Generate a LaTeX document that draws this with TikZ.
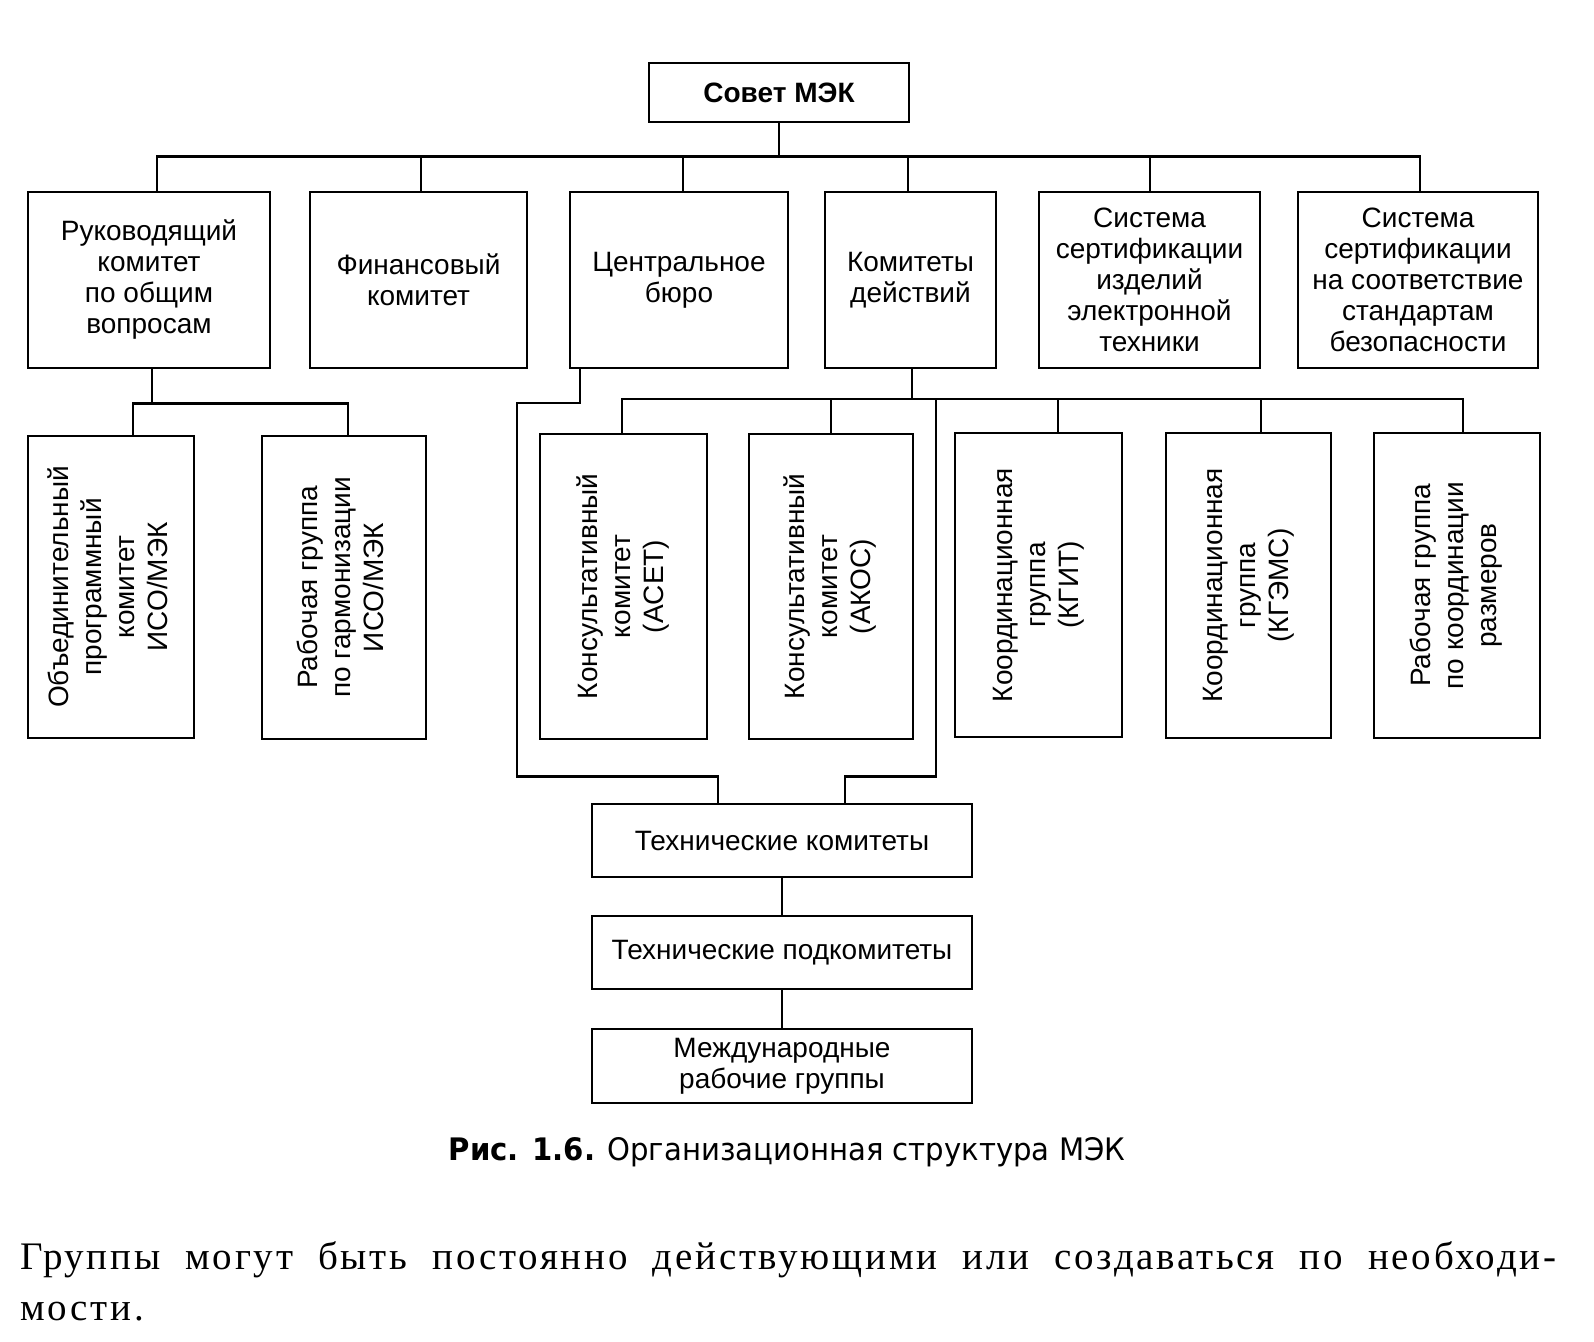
\documentclass[tikz,border=0pt]{standalone}
\usepackage{fontspec}
\usepackage{graphicx}
\setmainfont{Liberation Sans}
\newfontfamily\capfont[FakeStretch=0.94]{DejaVu Sans}
\newfontfamily\bodyfont[LetterSpace=7.0]{Liberation Serif}
\newcommand{\rottext}[1]{\rotatebox{90}{\fontsize{28}{33}\selectfont\begin{tabular}{@{}c@{}}#1\end{tabular}}}
\begin{document}
\begin{tikzpicture}[x=1pt,y=-1pt,
  box/.style={draw, line width=2.7pt, inner sep=0pt, align=center, font=\fontsize{28}{31}\selectfont},
  conn/.style={line width=2.7pt},
]
\useasboundingbox[fill=white] (0,0) rectangle (1594,1341);

% top
\node[box, minimum width=260pt, minimum height=59pt, font=\bfseries\fontsize{28}{31}\selectfont] (sovet) at (779,92.5) {Совет МЭК};

% first row
\node[box, minimum width=242pt, minimum height=176pt] (ruk) at (149,280) {Руководящий\\комитет\\по общим\\вопросам};
\node[box, minimum width=217pt, minimum height=176pt] (fin) at (418.5,280) {Финансовый\\комитет};
\node[box, minimum width=218pt, minimum height=176pt] (cb) at (679,280) {Центральное\\бюро};
\node[box, minimum width=171pt, minimum height=176pt] (kd) at (910.5,280) {Комитеты\\действий};
\node[box, minimum width=221pt, minimum height=176pt] (sys1) at (1149.5,280) {Система\\сертификации\\изделий\\электронной\\техники};
\node[box, minimum width=240pt, minimum height=176pt] (sys2) at (1418,280) {Система\\сертификации\\на соответствие\\стандартам\\безопасности};

% second row (vertical text)
\node[box, minimum width=166pt, minimum height=302pt] (obj) at (111,587) {\rottext{Объединительный\\программный\\комитет\\ИСО/МЭК}};
\node[box, minimum width=164pt, minimum height=303pt] (rg1) at (344,587.5) {\rottext{Рабочая группа\\по гармонизации\\ИСО/МЭК}};
\node[box, minimum width=167pt, minimum height=305pt] (acet) at (623.5,586.5) {\rottext{Консультативный\\комитет\\(ACET)}};
\node[box, minimum width=164pt, minimum height=305pt] (akos) at (831,586.5) {\rottext{Консультативный\\комитет\\(АКОС)}};
\node[box, minimum width=167pt, minimum height=304pt] (kgit) at (1038.5,585) {\rottext{Координационная\\группа\\(КГИТ)}};
\node[box, minimum width=165pt, minimum height=305pt] (kgems) at (1248.5,585.5) {\rottext{Координационная\\группа\\(КГЭМС)}};
\node[box, minimum width=166pt, minimum height=305pt] (rgr) at (1457,585.5) {\rottext{Рабочая группа\\по координации\\размеров}};

% technical chain
\node[box, minimum width=380pt, minimum height=73pt] (tk) at (782,840.5) {Технические комитеты};
\node[box, minimum width=380pt, minimum height=73pt] (tp) at (782,952.5) {Технические подкомитеты};
\node[box, minimum width=380pt, minimum height=74pt] (mrg) at (782,1066) {Международные\\рабочие группы};

% attach points
\coordinate (pRuk) at ([xshift=8pt]ruk.north);
\coordinate (pFin) at ([xshift=2.5pt]fin.north);
\coordinate (pCb) at ([xshift=4pt]cb.north);
\coordinate (pKd) at ([xshift=-2.5pt]kd.north);
\coordinate (pS1) at ([xshift=0.5pt]sys1.north);
\coordinate (pS2) at ([xshift=2pt]sys2.north);
\coordinate (rukB) at ([xshift=3pt]ruk.south);
\coordinate (objT) at ([xshift=22pt]obj.north);
\coordinate (rg1T) at ([xshift=4pt]rg1.north);
\coordinate (cbB) at ([xshift=-99pt]cb.south);
\coordinate (kdB) at ([xshift=1.5pt]kd.south);
\coordinate (acT) at ([xshift=-1.5pt]acet.north);
\coordinate (akT) at (akos.north);
\coordinate (kgT) at ([xshift=19.5pt]kgit.north);
\coordinate (keT) at ([xshift=12.5pt]kgems.north);
\coordinate (rgT) at ([xshift=6pt]rgr.north);
\coordinate (tkL) at ([xshift=-64pt]tk.north);
\coordinate (tkR) at ([xshift=63pt]tk.north);
\coordinate (jR) at (936,399);
\coordinate (jL) at (517,403);

% connectors: top level
\path (sovet.south) ++(0,33) coordinate (jt);
\draw[conn] (sovet.south) -- (jt);
\draw[conn] (pRuk) -- (pRuk |- jt) -- (pS2 |- jt) -- (pS2);
\draw[conn] (pFin) -- (pFin |- jt);
\draw[conn] (pCb) -- (pCb |- jt);
\draw[conn] (pKd) -- (pKd |- jt);
\draw[conn] (pS1) -- (pS1 |- jt);

% left subtree
\path (rukB) ++(0,34) coordinate (jr);
\draw[conn] (rukB) -- (jr);
\draw[conn] (objT) -- (objT |- jr) -- (rg1T |- jr) -- (rg1T);

% right subtree
\draw[conn] (kdB) -- (kdB |- jR);
\draw[conn] (acT) -- (acT |- jR) -- (rgT |- jR) -- (rgT);
\draw[conn] (akT) -- (akT |- jR);
\draw[conn] (kgT) -- (kgT |- jR);
\draw[conn] (keT) -- (keT |- jR);

% to technical committees
\draw[conn] (tkR) -- ++(0,-26) -| (jR);
\draw[conn] (tkL) -- ++(0,-26) -| (jL) -- (cbB |- jL) -- (cbB);
\draw[conn] (tk.south) -- (tp.north);
\draw[conn] (tp.south) -- (mrg.north);

% caption and text
\node[anchor=base, inner sep=0pt, font=\capfont\fontsize{31}{36}\selectfont] (cap) at (787,1160) {\textbf{Рис. 1.6.} Организационная структура МЭК};
\node[anchor=base west, inner sep=0pt, font=\bodyfont\fontsize{39}{51}\selectfont] (p1) at (20,1269) {\makebox[1536pt][s]{Группы могут быть постоянно действующими или создаваться по необходи-}};
\node[anchor=base west, inner sep=0pt, font=\bodyfont\fontsize{39}{51}\selectfont] (p2) at (20,1320) {мости.};
\end{tikzpicture}
\end{document}
